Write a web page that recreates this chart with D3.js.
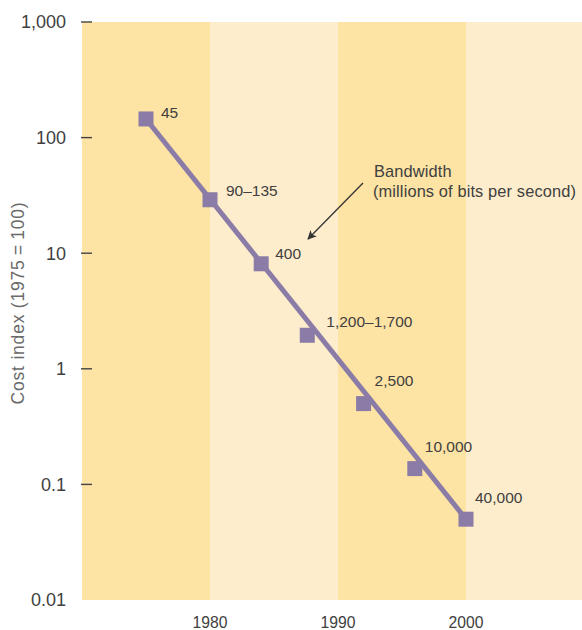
<!DOCTYPE html>
<html>
<head>
<meta charset="utf-8">
<script src="https://cdn.jsdelivr.net/npm/d3@7"></script>
<style>
  html, body { margin: 0; padding: 0; background: #fff; }
  svg { display: block; font-family: "Liberation Sans", Arial, sans-serif; }
</style>
</head>
<body>
<svg id="chart" width="582" height="630"></svg>
<script>
// Cost index of bandwidth (1975 = 100), log scale
const years = [1975, 1980, 1984, 1987.6, 1992, 1996, 2000];
const costIndex = [145, 29, 8.1, 1.95, 0.5, 0.137, 0.05];
const bandwidthLabels = ["45", "90–135", "400", "1,200–1,700", "2,500", "10,000", "40,000"];
const yTickValues = [1000, 100, 10, 1, 0.1, 0.01];
const yTickLabels = ["1,000", "100", "10", "1", "0.1", "0.01"];
const xTickValues = [1980, 1990, 2000];
const decades = [1970, 1980, 1990, 2000];

// label offsets relative to each marker (layout only)
const labelOffsets = [[15, -7], [16, -9], [14, -10], [19, -14], [11, -23], [10, -22], [9, -22]];

const svg = d3.select("#chart");
const x = d3.scaleLinear().domain([1970, 2010]).range([82, 594]);
const y = d3.scaleLog().domain([0.01, 1000]).range([600, 22]);

const dark = "#fde3a4", light = "#feedcc";
const purple = "#8a7ca6";
const textCol = "#404040";

// alternating decade bands
svg.append("g").selectAll("rect").data(decades).join("rect")
  .attr("x", d => x(d))
  .attr("y", y(1000))
  .attr("width", d => x(d + 10) - x(d))
  .attr("height", y(0.01) - y(1000))
  .attr("fill", (d, i) => i % 2 === 0 ? dark : light);

// y axis: short ticks and labels
const yAxis = svg.append("g");
yAxis.selectAll("line").data(yTickValues.slice(0, 5)).join("line")
  .attr("x1", 81).attr("x2", 92)
  .attr("y1", d => y(d)).attr("y2", d => y(d))
  .attr("stroke", "#444").attr("stroke-width", 1.4);
yAxis.selectAll("text").data(yTickValues).join("text")
  .attr("x", 66).attr("y", d => y(d))
  .attr("dy", "0.36em")
  .attr("text-anchor", "end")
  .attr("font-size", 18)
  .attr("fill", textCol)
  .text((d, i) => yTickLabels[i]);

svg.append("text")
  .attr("transform", `translate(24, 303) rotate(-90)`)
  .attr("text-anchor", "middle")
  .attr("font-size", 17.5)
  .attr("letter-spacing", 0.8)
  .attr("fill", "#6a6a6a")
  .text("Cost index (1975\u2009=\u2009100)");

// x labels
svg.append("g").selectAll("text").data(xTickValues).join("text")
  .attr("x", d => x(d)).attr("y", 628)
  .attr("text-anchor", "middle")
  .attr("font-size", 15.7)
  .attr("fill", textCol)
  .text(d => d);

// trend line from first to last observation
const n = years.length;
const line = d3.line().x(d => x(d[0])).y(d => y(d[1]));
svg.append("path")
  .datum([[years[0], costIndex[0]], [years[n - 1], costIndex[n - 1]]])
  .attr("d", line)
  .attr("stroke", purple).attr("stroke-width", 5).attr("fill", "none");

// square markers
const s = 15;
svg.append("g").selectAll("rect").data(years).join("rect")
  .attr("x", (d) => x(d) - s / 2)
  .attr("y", (d, i) => y(costIndex[i]) - s / 2)
  .attr("width", s).attr("height", s)
  .attr("fill", purple);

// bandwidth labels
svg.append("g").selectAll("text").data(years).join("text")
  .attr("x", (d, i) => x(d) + labelOffsets[i][0])
  .attr("y", (d, i) => y(costIndex[i]) + labelOffsets[i][1])
  .attr("dy", "0.36em")
  .attr("font-size", 15.5)
  .attr("fill", textCol)
  .text((d, i) => bandwidthLabels[i]);

// annotation with arrow
svg.append("defs").append("marker")
  .attr("id", "arrow").attr("viewBox", "0 0 10 10")
  .attr("refX", 9).attr("refY", 5)
  .attr("markerWidth", 9).attr("markerHeight", 9)
  .attr("markerUnits", "userSpaceOnUse")
  .attr("orient", "auto")
  .append("path").attr("d", "M0,0 L10,5 L0,10 L2.5,5 Z").attr("fill", "#333");

svg.append("line")
  .attr("x1", 363).attr("y1", 183).attr("x2", 308).attr("y2", 239)
  .attr("stroke", "#333").attr("stroke-width", 1.3)
  .attr("marker-end", "url(#arrow)");

const ann = svg.append("text").attr("font-size", 16.4)
  .attr("letter-spacing", 0.12).attr("fill", textCol);
ann.append("tspan").attr("x", 374).attr("y", 177).text("Bandwidth");
ann.append("tspan").attr("x", 373).attr("y", 197).text("(millions of bits per second)");
</script>
</body>
</html>
